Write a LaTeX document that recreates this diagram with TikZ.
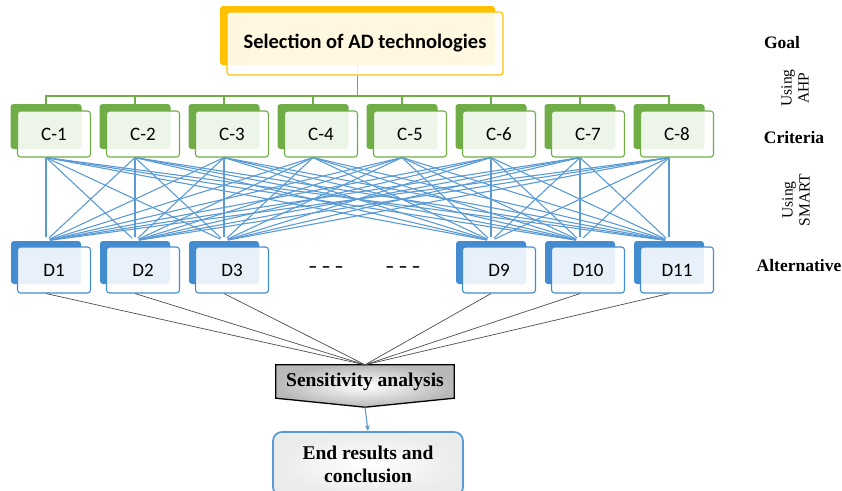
\documentclass[tikz,border=0pt]{standalone}
\usepackage{fontspec}
\setmainfont{Liberation Serif}
\newfontfamily\calfont{Carlito}
\usetikzlibrary{calc}
\usetikzlibrary{backgrounds}
\usetikzlibrary{arrows.meta}

\definecolor{critgreen}{RGB}{112,173,71}
\definecolor{goalgold}{RGB}{255,192,0}
\definecolor{altblue}{RGB}{68,140,208}
\definecolor{linkblue}{RGB}{91,155,213}

\begin{document}
\begin{tikzpicture}[x=1pt,y=-1pt,
    backbox/.style={rectangle, rounded corners=3pt, inner sep=0pt, minimum width=71pt, minimum height=45pt},
    frontbox/.style={rectangle, rounded corners=3pt, draw, line width=1.1pt, fill=white, fill opacity=0.88, text opacity=1,
      inner sep=0pt, minimum width=73pt, minimum height=46pt, font=\calfont\fontsize{19}{22}\selectfont},
    sidelabel/.style={font=\bfseries\fontsize{17.5}{20}\selectfont},
    methodlabel/.style={rotate=90, align=center, font=\fontsize{15.5}{17}\selectfont}]
  \useasboundingbox (0,0) rectangle (842,490);

  % goal
  \node[backbox, fill=goalgold, minimum width=275pt, minimum height=59pt] (gb) at (357.5,35.5) {};
  \node[frontbox, draw=goalgold, minimum width=276pt, minimum height=63pt,
    font=\calfont\bfseries\fontsize{20.5}{24}\selectfont] (goal) at (365,43.5) {Selection of AD technologies};
  \coordinate (bar) at (357.5,96);

  % criteria
  \foreach \i in {1,...,8} {
    \pgfmathsetmacro\cx{46+89*(\i-1)}
    \node[backbox, fill=critgreen] (cb\i) at (\cx,126.5) {};
    \node[frontbox, draw=critgreen] (c\i) at (\cx+8,134) {C-\i};
  }

  % alternatives
  \foreach \k/\lab in {1/1,2/2,3/3,6/9,7/10,8/11} {
    \pgfmathsetmacro\cx{46+89*(\k-1)}
    \node[backbox, fill=altblue, minimum width=70pt, minimum height=43pt] (db\lab) at (\cx,262.5) {};
    \node[frontbox, draw=altblue] (d\lab) at (\cx+8,270) {D\lab};
  }
  \node[font=\calfont\bfseries\fontsize{18}{20}\selectfont] (gap1) at (326,270) {\textendash{} \textendash{} \textendash};
  \node[font=\calfont\bfseries\fontsize{18}{20}\selectfont] (gap2) at (403,270) {\textendash{} \textendash{} \textendash};

  % AHP links
  \begin{scope}[on background layer]
    \draw[critgreen, line width=1.2pt] (gb.south) -- (bar);
    \foreach \i in {1,...,8}
      \draw[critgreen, line width=1.2pt] (cb\i.north) |- (bar);
  \end{scope}

  % SMART links
  \foreach \i in {1,...,8}
    \foreach \lab in {1,2,3,9,10,11}
      \draw[linkblue, line width=1.1pt, shorten >=4pt] (cb\i |- c\i.south) -- (db\lab.north);

  % sensitivity
  \node[rectangle, inner sep=0pt, minimum width=178pt, minimum height=33pt,
    font=\bfseries\fontsize{19.5}{22}\selectfont] (sens) at (365,381.5) {Sensitivity analysis};
  \coordinate (senstip) at ($(sens.south)+(0,9)$);
  \begin{scope}[on background layer]
    \shade[draw=black, line width=1.3pt, inner color=white, outer color=black!28]
      (sens.north west) -- (sens.north east) -- (sens.south east) -- (senstip) -- (sens.south west) -- cycle;
  \end{scope}
  \foreach \lab in {1,2,3,9,10,11}
    \draw[black!70, line width=0.7pt] (db\lab |- d\lab.south) -- (sens.north);

  % end results
  \node[draw=linkblue, line width=1.8pt, rounded corners=9pt, minimum width=190pt, minimum height=64pt,
    inner color=white, outer color=black!8, align=center,
    font=\bfseries\fontsize{19.5}{23}\selectfont] (endres) at (368,464) {End results and\\conclusion};
  \draw[linkblue, line width=1.1pt, -{Stealth[length=6pt,width=5pt]}] (senstip) -- (endres.north);

  % levels
  \node[sidelabel] (lgoal) at (782,43) {Goal};
  \node[methodlabel] (lahp) at (795,88) {Using\\AHP};
  \node[sidelabel] (lcrit) at (794,138) {Criteria};
  \node[methodlabel] (lsmart) at (796,200) {Using\\SMART};
  \node[sidelabel] (lalt) at (799,266) {Alternative};
\end{tikzpicture}
\end{document}
